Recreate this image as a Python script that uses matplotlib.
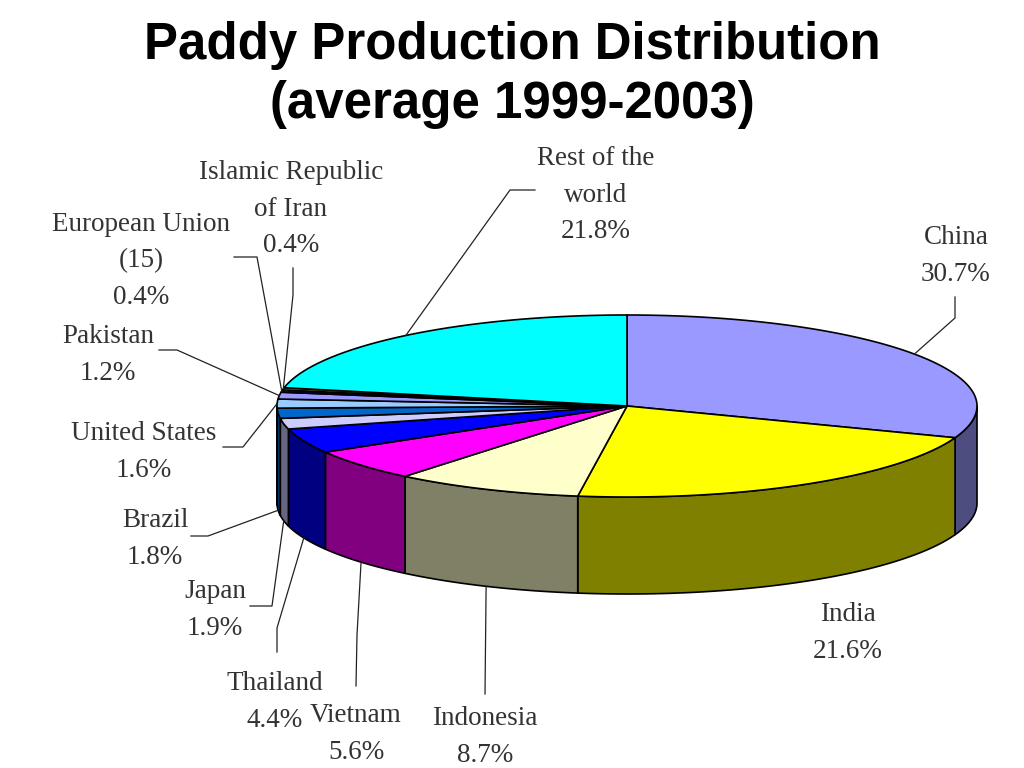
import numpy as np
import matplotlib
matplotlib.use("Agg")
import matplotlib.pyplot as plt
from matplotlib.patches import Polygon

# --- data ---
names = ["China", "India", "Indonesia", "Vietnam", "Thailand", "Japan", "Brazil",
         "United States", "Pakistan", "European Union\n(15)",
         "Islamic Republic\nof Iran", "Rest of the\nworld"]
values = [30.7, 21.6, 8.7, 5.6, 4.4, 1.9, 1.8, 1.6, 1.2, 0.4, 0.4, 21.8]
top_colors = ["#9999FF", "#FFFF00", "#FFFFCC", "#FF00FF", "#0000FF", "#CCCCFF",
              "#0066CC", "#99CCFF", "#9999FF", "#000080", "#808000", "#00FFFF"]
side_colors = ["#4D4D80", "#808000", "#808066", "#800080", "#000080", "#666680",
               "#003366", "#4D6680", "#4D4D80", "#000040", "#404000", "#008080"]

# --- layout (figure pixels) ---
CX, CY, RX, RY, DEPTH = 627, 406, 350, 91, 97
label_pos = [(956, 256), (848, 633), (485, 737), (356, 734), (275, 702), (215, 610),
             (155, 539), (144, 452), (108, 355), (141, 261), (291, 209), (596, 195)]
elbows = [[(955, 318), (955, 297)], [], [(485, 694)], [(357, 635), (356, 686)],
          [(277, 628), (277, 652)], [(272, 606), (250, 606)], [(208, 536), (191, 536)],
          [(243, 447), (223, 447)], [(177, 350), (159, 350)], [(257, 257), (234, 257)],
          [(293, 295), (293, 268)], [(510, 190), (535, 190)]]

TXT = "#333333"
EDGE = "#000000"

fig = plt.figure(figsize=(10.24, 7.68), dpi=100, facecolor="white")
ax = fig.add_axes([0, 0, 1, 1])
ax.set_xlim(0, 1024)
ax.set_ylim(768, 0)
ax.axis("off")


def rim(deg, drop=0.0):
    """Point(s) on the pie rim; angle runs clockwise from 12 o'clock."""
    t = np.radians(deg)
    return np.column_stack([CX + RX * np.sin(t), CY - RY * np.cos(t) + drop])


fractions = np.array(values) / np.sum(values)
edges = np.concatenate([[0], np.cumsum(fractions) * 360])

# side walls: only the front half of the rim shows
for i in range(len(values)):
    a, b = max(edges[i], 90), min(edges[i + 1], 270)
    if b <= a:
        continue
    arc = np.linspace(a, b, max(int((b - a) * 2), 2))
    wall = np.vstack([rim(arc), rim(arc[::-1], DEPTH)])
    ax.add_patch(Polygon(wall, closed=True, fc=side_colors[i], ec=EDGE, lw=1.2,
                         joinstyle="round", zorder=2))

# top faces
for i in range(len(values)):
    arc = np.linspace(edges[i], edges[i + 1], max(int((edges[i + 1] - edges[i]) * 2), 2))
    face = np.vstack([[CX, CY], rim(arc)])
    ax.add_patch(Polygon(face, closed=True, fc=top_colors[i], ec=EDGE, lw=1.2,
                         joinstyle="round", zorder=3))

# labels and leader lines
serif = "Liberation Serif"
for i, (name, val) in enumerate(zip(names, values)):
    x, y = label_pos[i]
    ax.text(x, y, f"{name}\n{val}%", ha="center", va="center", family=serif,
            fontsize=19.5, color=TXT, linespacing=1.63, zorder=5)
    if elbows[i]:
        mid = (edges[i] + edges[i + 1]) / 2
        drop = DEPTH if 90 < mid < 270 else 0
        start = rim(np.array([mid]), drop)[0]
        pts = np.vstack([start, elbows[i]])
        ax.plot(pts[:, 0], pts[:, 1], color="#222222", lw=0.9, zorder=4)

# title
ax.text(512, 75, "Paddy Production Distribution\n(average 1999-2003)", ha="center",
        va="center", family="Liberation Sans", fontweight="bold", fontsize=36.7,
        color="black", linespacing=1.26)

fig.savefig("out.png", dpi=100, facecolor="white")
